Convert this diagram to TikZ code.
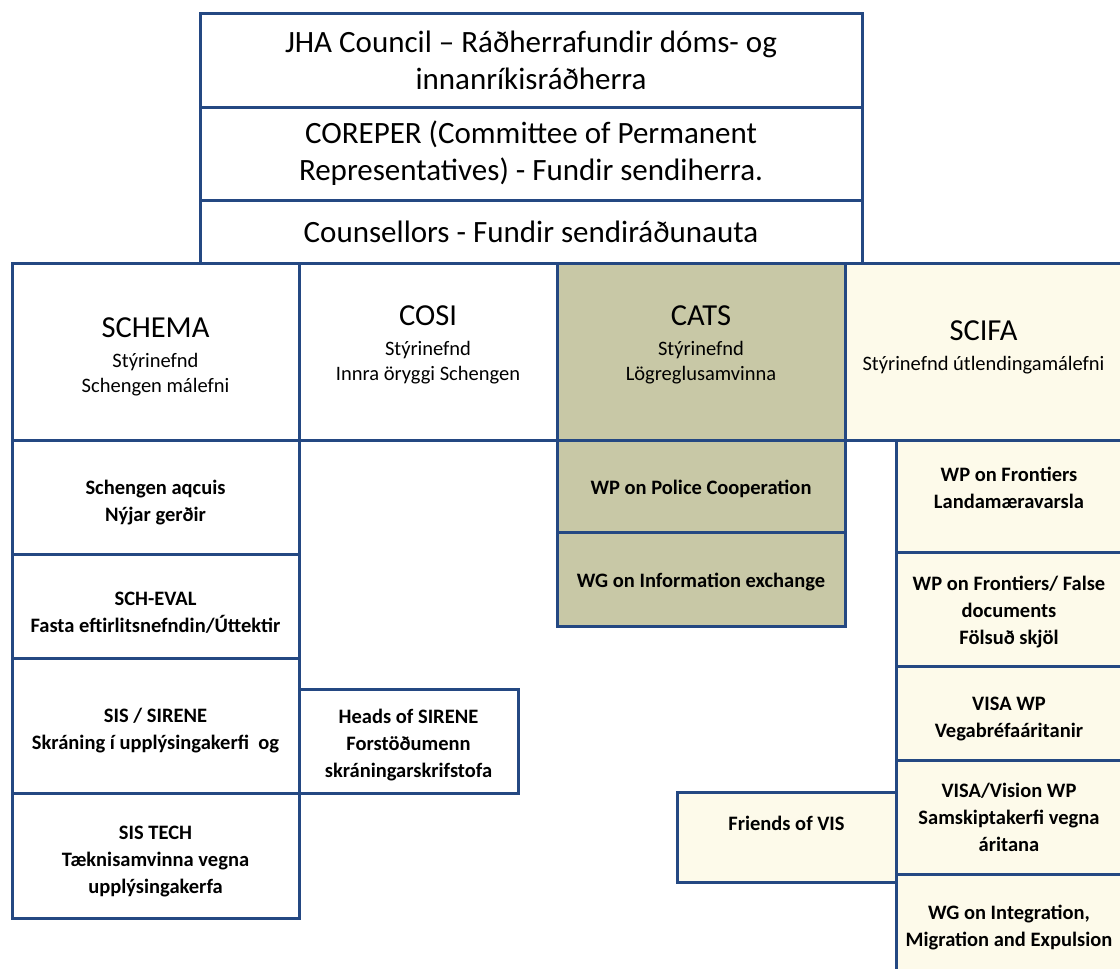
\documentclass[tikz,border=0pt]{standalone}
\usepackage{fontspec}
\setmainfont{Carlito}
\usetikzlibrary{positioning}

\definecolor{lineblue}{RGB}{36,72,130}
\definecolor{catsfill}{RGB}{200,200,166}
\definecolor{scifafill}{RGB}{253,250,234}

\tikzset{
  orgbox/.style={draw=lineblue,line width=3pt,align=center,inner sep=0pt,fill=white},
  headbox/.style={orgbox,font=\fontsize{31}{37}\selectfont},
  steerbox/.style={orgbox,font=\fontsize{20.5}{25}\selectfont},
  wpbox/.style={orgbox,font=\fontsize{20.5}{27}\selectfont\bfseries},
}
\newcommand{\bigname}[1]{{\fontsize{30.5}{34}\selectfont #1}\\[5pt]}
\newcommand{\lift}[1]{\rule{0pt}{#1}}

\begin{document}
\begin{tikzpicture}[x=1pt,y=-1pt]
        \useasboundingbox (0,0) rectangle (1120,969);
        \clip (0,0) rectangle (1120,969);

        % council levels
        \node[headbox,minimum width=662pt,minimum height=94pt] (jha) at (531,60)
          {JHA Council -- Ráðherrafundir dóms- og\\innanríkisráðherra};
        \node[headbox,minimum width=662pt,minimum height=93pt] (coreper) at (531,153.5)
          {COREPER (Committee of Permanent\\Representatives) - Fundir sendiherra.};
        \node[headbox,minimum width=662pt,minimum height=63pt] (counsellors) at (531,231.5)
          {Counsellors - Fundir sendiráðunauta};

        % steering committees
        \node[steerbox,minimum width=287pt,minimum height=177pt] (schema) at (155.5,351.5)
          {\bigname{\lift{31pt}SCHEMA}Stýrinefnd\\Schengen málefni};
        \node[steerbox,minimum width=258pt,minimum height=177pt] (cosi) at (428,351.5)
          {\bigname{COSI}Stýrinefnd\\Innra öryggi Schengen\\[-8pt]\mbox{}};
        \node[steerbox,fill=catsfill,minimum width=288pt,minimum height=177pt] (cats) at (701,351.5)
          {\bigname{CATS}Stýrinefnd\\Lögreglusamvinna\\[-8pt]\mbox{}};
        \node[steerbox,fill=scifafill,minimum width=277pt,minimum height=177pt] (scifa) at (983.5,351.5)
          {\bigname{SCIFA}Stýrinefnd útlendingamálefni\\[-13pt]\mbox{}};

        % SCHEMA groups
        \node[wpbox,minimum width=287pt,minimum height=114pt] (acquis) at (155.5,497)
          {\lift{25pt}Schengen aqcuis\\Nýjar gerðir};
        \node[wpbox,minimum width=287pt,minimum height=104pt] (scheval) at (155.5,606)
          {\lift{27pt}SCH-EVAL\\Fasta eftirlitsnefndin/Úttektir};
        \node[wpbox,minimum width=287pt,minimum height=135pt] (sirene) at (155.5,725.5)
          {\lift{25pt}SIS / SIRENE\\Skráning í upplýsingakerfi\ \ og};
        \node[wpbox,minimum width=287pt,minimum height=125pt] (sistech) at (155.5,855.5)
          {\lift{25pt}SIS TECH\\Tæknisamvinna vegna\\upplýsingakerfa};
        \node[wpbox,minimum width=219pt,minimum height=104pt] (heads) at (408.5,741)
          {\lift{22pt}Heads of SIRENE\\Forstöðumenn\\skráningarskrifstofa};

        % CATS groups
        \node[wpbox,fill=catsfill,minimum width=288pt,minimum height=92pt] (police) at (701,486)
          {\lift{21pt}WP on Police Cooperation};
        \node[wpbox,fill=catsfill,minimum width=288pt,minimum height=94pt] (infoex) at (701,579)
          {\lift{21pt}WG on Information exchange};

        % SCIFA groups
        \node[wpbox,fill=scifafill,minimum width=226pt,minimum height=112pt] (frontiers) at (1009,496)
          {\lift{24pt}WP on Frontiers\\Landamæravarsla\\\mbox{}};
        \node[wpbox,fill=scifafill,minimum width=226pt,minimum height=114pt] (falsedoc) at (1009,609)
          {\lift{21pt}WP on Frontiers/ False\\documents\\Fölsuð skjöl};
        \node[wpbox,fill=scifafill,minimum width=226pt,minimum height=94pt] (visa) at (1009,713)
          {\lift{25pt}VISA WP\\Vegabréfaáritanir};
        \node[wpbox,fill=scifafill,minimum width=226pt,minimum height=114pt] (vision) at (1009,817)
          {VISA/Vision WP\\Samskiptakerfi vegna\\áritana};
        \node[wpbox,fill=scifafill,minimum width=226pt,minimum height=108pt] (integration) at (1009,928)
          {WG on Integration,\\Migration and Expulsion};
        \node[wpbox,fill=scifafill,minimum width=219pt,minimum height=90pt] (friends) at (786.5,837)
          {Friends of VIS\\\mbox{}};
\end{tikzpicture}
\end{document}
